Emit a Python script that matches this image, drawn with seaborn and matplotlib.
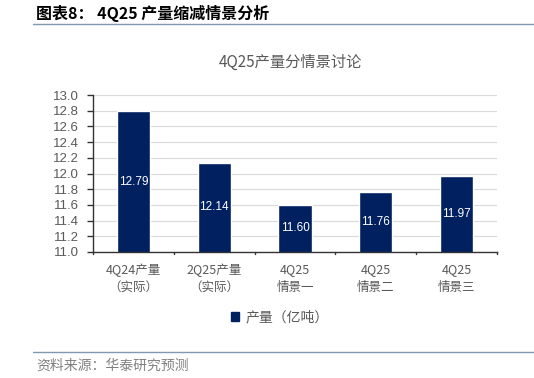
import matplotlib
matplotlib.use("Agg")
import matplotlib.pyplot as plt
import seaborn as sns
import pandas as pd
from matplotlib.patches import Patch
from matplotlib.lines import Line2D

categories = ["4Q24产量\n（实际）", "2Q25产量\n（实际）", "4Q25\n情景一", "4Q25\n情景二", "4Q25\n情景三"]
values = [12.79, 12.14, 11.60, 11.76, 11.97]
series_name = "产量（亿吨）"
yticks = [11.0, 11.2, 11.4, 11.6, 11.8, 12.0, 12.2, 12.4, 12.6, 12.8, 13.0]

sns.set_theme(style="white")
plt.rcParams['font.family'] = ['Noto Sans CJK SC', 'DejaVu Sans']

navy = "#002060"
gray_text = "#595959"
num_font = ['Liberation Sans', 'DejaVu Sans']

df = pd.DataFrame({"cat": categories, "val": values})

fig = plt.figure(figsize=(5.34, 3.78), dpi=100)
ax = fig.add_axes([93/534, 1-252/378, (497-93)/534, (252-95)/378])

sns.barplot(data=df, x="cat", y="val", color=navy, width=0.41, ax=ax, saturation=1)

ax.set_ylim(11.0, 13.0)
ax.set_yticks(yticks)
ax.set_yticklabels([f"{t:.1f}" for t in yticks], fontsize=9.5, color=gray_text, family=num_font)
ax.set_xlim(-0.5, len(categories)-0.5)
ax.set_xticks(range(len(categories)))
ax.set_xticklabels(categories, fontsize=9, color=gray_text, linespacing=1.45)
ax.tick_params(axis='x', length=0, pad=8)
ax.tick_params(axis='y', length=4, width=1, color="#333333", direction='out', left=True, pad=6)
ax.set_xlabel("")
ax.set_ylabel("")
ax.yaxis.grid(True, color="#d9d9d9", linewidth=0.8)
ax.set_axisbelow(True)
for s in ["top", "right"]:
    ax.spines[s].set_visible(False)
for s in ["left", "bottom"]:
    ax.spines[s].set_color("#333333")
    ax.spines[s].set_linewidth(1.0)

# category boundary ticks on x axis
for b in [i - 0.5 for i in range(len(categories)+1)]:
    ax.plot([b, b], [0, -0.015], transform=ax.get_xaxis_transform(), color="#333333", lw=1, clip_on=False)

for i, v in enumerate(values):
    ax.text(i, (11.0 + v)/2, f"{v:.2f}", ha="center", va="center", color="white", fontsize=8.5,
            family=num_font)

fig.text(290/534, 1-62/378, "4Q25产量分情景讨论", ha="center", va="center", fontsize=11, color=gray_text)

leg = fig.legend(handles=[Patch(facecolor=navy, edgecolor=navy, label=series_name)],
                 loc="center", bbox_to_anchor=(280/534, 1-317/378), frameon=False, fontsize=10,
                 handlelength=0.6, handleheight=0.6, handletextpad=0.5)
for t in leg.get_texts():
    t.set_color(gray_text)

fig.text(36/534, 1-13/378, "图表8： 4Q25 产量缩减情景分析", ha="left", va="center", fontsize=11.5,
         fontweight="bold", color="black")
fig.add_artist(Line2D([33/534, 1.0], [1-24/378, 1-24/378], color="#8497b0", lw=1))
fig.add_artist(Line2D([33/534, 1.0], [1-352/378, 1-352/378], color="#8497b0", lw=1))
fig.text(36/534, 1-366/378, "资料来源：华泰研究预测", ha="left", va="center", fontsize=10, color="#808080")

fig.savefig("out.png", dpi=100)
